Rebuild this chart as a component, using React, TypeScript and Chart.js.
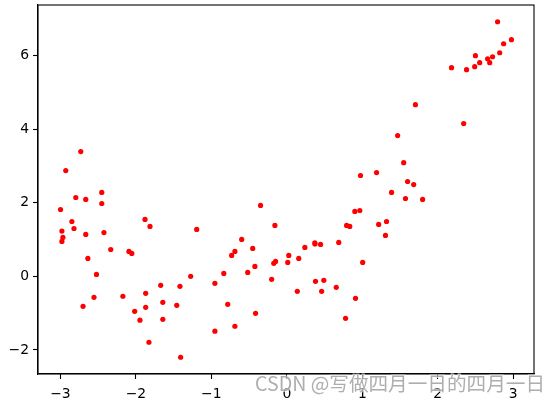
import React, { useEffect, useRef } from "react";
import { Chart, registerables } from "chart.js";

Chart.register(...registerables);

const xs: number[] = [
  -2.998, -2.98, -2.967, -2.98, -2.929, -2.73, -2.796, -2.848, -2.82, -2.664,
  -2.664, -2.636, -2.7, -2.522, -2.555, -2.452, -2.452, -2.423, -2.333, -2.172,
  -2.092, -2.054, -2.016, -1.946, -1.879, -1.813, -1.87, -1.87, -1.827, -1.671,
  -1.643, -1.643, -1.416, -1.458, -1.407, -1.274, -1.194, -0.953, -0.953, -0.835,
  -0.783, -0.731, -0.688, -0.688, -0.598, -0.518, -0.452, -0.423, -0.414, -0.348,
  -0.201, -0.173, -0.158, -0.149, 0.012, 0.026, 0.139, 0.158, 0.239, 0.371,
  0.373, 0.38, 0.447, 0.461, 0.49, 0.655, 0.688, 0.778, 0.792, 0.834,
  0.901, 0.91, 0.967, 0.976, 1.005, 1.189, 1.217, 1.307, 1.321, 1.388,
  1.468, 1.548, 1.572, 1.6, 1.681, 1.704, 1.799, 2.182, 2.343, 2.381,
  2.489, 2.499, 2.555, 2.66, 2.688, 2.726, 2.792, 2.82, 2.872, 2.976,
];
const ys: number[] = [
  1.817, 1.23, 1.058, 0.95, 2.875, 3.39, 2.143, 1.49, 1.3, 2.09,
  1.14, 0.488, -0.814, 0.054, -0.57, 2.28, 1.98, 1.19, 0.73, -0.54,
  0.678, 0.624, -0.95, -1.19, 1.546, 1.356, -0.46, -0.84, -1.79, -0.244,
  -0.705, -1.166, -0.27, -0.787, -2.197, 0.0, 1.275, -0.19, -1.49, 0.081,
  -0.76, 0.57, 0.678, -1.356, 1.004, 0.108, 0.76, 0.271, -1.004, 1.926,
  -0.081, 0.353, 1.383, 0.407, 0.38, 0.57, -0.407, 0.488, 0.787, 0.913,
  0.88, -0.136, 0.868, -0.407, -0.108, -0.298, 0.922, -1.139, 1.383, 1.356,
  1.763, -0.597, 1.79, 2.74, 0.38, 2.82, 1.41, 1.112, 1.49, 2.28,
  3.825, 3.09, 2.116, 2.577, 2.495, 4.665, 2.089, 5.669, 4.15, 5.615,
  5.696, 5.995, 5.805, 5.913, 5.805, 5.967, 6.917, 6.076, 6.32, 6.43,
];
const xTicks: number[] = [-3, -2, -1, 0, 1, 2, 3];
const yTicks: number[] = [-2, 0, 2, 4, 6];
const watermark = "CSDN @写做四月一日的四月一日";

function paddedRange(v: number[]): [number, number] {
  const lo = Math.min(...v);
  const hi = Math.max(...v);
  const m = (hi - lo) * 0.05;
  return [lo - m, hi + m];
}

const fmt = (v: number | string) => String(v).replace("-", "\u2212");

export default function App() {
  const ref = useRef<HTMLCanvasElement | null>(null);
  useEffect(() => {
    document.body.style.margin = "0";
    const canvas = ref.current!;
    const [xmin, xmax] = paddedRange(xs);
    const [ymin, ymax] = paddedRange(ys);
    const frame = {
      id: "frame",
      afterDraw(chart: any) {
        const { ctx, chartArea: a } = chart;
        ctx.save();
        ctx.strokeStyle = "#000";
        ctx.lineWidth = 1.1;
        ctx.strokeRect(a.left, a.top, a.right - a.left, a.bottom - a.top);
        let size = 18;
        ctx.font = `${size}px "Noto Sans CJK SC", "DejaVu Sans", sans-serif`;
        const w = ctx.measureText(watermark).width;
        size = (size * 290) / w;
        ctx.font = `${size}px "Noto Sans CJK SC", "DejaVu Sans", sans-serif`;
        ctx.textBaseline = "middle";
        ctx.textAlign = "left";
        ctx.lineWidth = 2;
        ctx.strokeStyle = "rgba(255,255,255,0.6)";
        ctx.strokeText(watermark, 255, 384);
        ctx.fillStyle = "rgba(160,160,160,0.85)";
        ctx.fillText(watermark, 255, 384);
        ctx.restore();
      },
    };
    const font = { family: '"DejaVu Sans", sans-serif', size: 13.9 };
    const chart = new Chart(canvas, {
      type: "scatter",
      data: {
        datasets: [
          {
            data: xs.map((x, i) => ({ x, y: ys[i] })),
            backgroundColor: "#ff0000",
            borderWidth: 0,
            pointRadius: 2.6,
            pointHoverRadius: 2.6,
          },
        ],
      },
      options: {
        animation: false,
        responsive: false,
        devicePixelRatio: 1,
        layout: { padding: { top: 5, right: 26, left: 0, bottom: 0 } },
        plugins: { legend: { display: false }, tooltip: { enabled: false } },
        scales: {
          x: {
            type: "linear",
            min: xmin,
            max: xmax,
            afterBuildTicks: (axis: any) => {
              axis.ticks = xTicks.map((value) => ({ value }));
            },
            afterFit: (scale: any) => {
              scale.height = 29;
              scale.paddingLeft = 0;
              scale.paddingRight = 0;
            },
            ticks: {
              callback: (v: any) => fmt(v),
              color: "#000",
              font,
              padding: 7,
              maxRotation: 0,
              autoSkip: false,
            },
            grid: {
              drawOnChartArea: false,
              drawTicks: true,
              tickLength: 5,
              tickColor: "#000",
              tickWidth: 1.1,
            },
            border: { display: true, color: "#000", width: 1.1 },
          },
          y: {
            type: "linear",
            min: ymin,
            max: ymax,
            afterBuildTicks: (axis: any) => {
              axis.ticks = yTicks.map((value) => ({ value }));
            },
            afterFit: (scale: any) => {
              scale.width = 38;
              scale.paddingTop = 0;
              scale.paddingBottom = 0;
            },
            ticks: {
              callback: (v: any) => fmt(v),
              color: "#000",
              font,
              padding: 4,
              autoSkip: false,
            },
            grid: {
              drawOnChartArea: false,
              drawTicks: true,
              tickLength: 5,
              tickColor: "#000",
              tickWidth: 1.1,
            },
            border: { display: true, color: "#000", width: 1.1 },
          },
        },
      },
      plugins: [frame],
    } as any);
    return () => chart.destroy();
  }, []);
  return (
    <div style={{ position: "absolute", left: 0, top: 0, width: 560, height: 403, background: "#fff" }}>
      <canvas ref={ref} width={560} height={403} />
    </div>
  );
}
